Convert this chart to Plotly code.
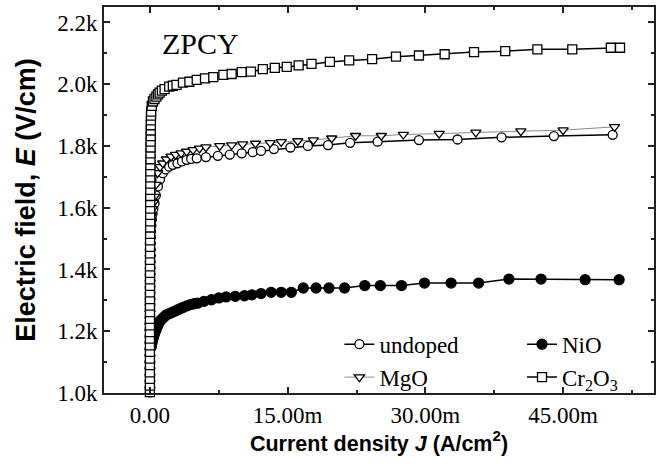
import plotly.graph_objects as go

# ---------------- data (J in mA/cm^2, E in V/cm) ----------------
j_undoped = [0.000, 0.001, 0.001, 0.002, 0.002, 0.003, 0.003, 0.004, 0.005, 0.006,
             0.007, 0.008, 0.010, 0.012, 0.014, 0.016, 0.019, 0.022, 0.026, 0.030,
             0.035, 0.041, 0.048, 0.056, 0.066, 0.078,
             0.10, 0.14, 0.20, 0.28, 0.38, 0.50, 0.65, 0.87, 1.1, 1.4,
             1.7, 2.1, 2.5, 3.0, 3.5, 4.0, 4.5, 5.1, 6.1, 7.4,
             8.7, 10.0, 11.2, 12.1, 13.5, 15.3, 17.2, 19.4, 21.8, 24.8,
             29.3, 33.5, 38.3, 44.0, 50.4]
e_undoped = [1002, 1022, 1043, 1063, 1084, 1104, 1125, 1145, 1166, 1186,
             1207, 1227, 1247, 1268, 1288, 1308, 1328, 1348, 1368, 1388,
             1408, 1428, 1447, 1467, 1486, 1505,
             1524, 1543, 1562, 1580, 1597, 1614, 1640, 1669, 1692, 1712,
             1724, 1733, 1739, 1744, 1750, 1755, 1758, 1760, 1764, 1768,
             1772, 1776, 1780, 1784, 1790, 1795, 1800, 1803, 1810, 1814,
             1819, 1821, 1828, 1832, 1836]

j_nio = [0.15, 0.22, 0.30, 0.40, 0.50, 0.60, 0.70, 0.85, 1.0, 1.2,
         1.4, 1.6, 1.8, 2.1, 2.4, 2.7, 3.0, 3.3, 3.6, 4.0,
         4.4, 4.8, 5.2, 5.9, 6.7, 7.5, 8.3, 9.3, 10.3, 11.1,
         12.1, 13.2, 14.3, 15.4, 16.7, 18.1, 19.5, 21.2, 23.4, 25.1,
         27.4, 29.9, 32.8, 35.8, 39.1, 42.6, 47.4, 51.1]
e_nio = [1150, 1162, 1172, 1183, 1192, 1200, 1207, 1218, 1228, 1236,
         1242, 1248, 1253, 1257, 1261, 1265, 1269, 1273, 1277, 1282,
         1286, 1289, 1291, 1297, 1302, 1308, 1311, 1313, 1315, 1318,
         1322, 1326, 1326, 1326, 1340, 1340, 1340, 1340, 1348, 1348,
         1348, 1356, 1356, 1356, 1369, 1369, 1367, 1367]

j_mgo = [0.000, 0.001, 0.001, 0.002, 0.002, 0.003, 0.003, 0.004, 0.005, 0.006,
         0.007, 0.008, 0.010, 0.012, 0.014, 0.016, 0.019, 0.022, 0.026, 0.030,
         0.035, 0.041, 0.048, 0.056, 0.066, 0.078,
         0.10, 0.14, 0.20, 0.28, 0.38, 0.50, 0.65, 0.85, 1.1, 1.4,
         1.8, 2.3, 2.8, 3.4, 4.0, 4.7, 5.4, 6.1, 7.6, 8.9,
         10.1, 11.5, 13.1, 14.3, 16.1, 17.8, 19.8, 22.4, 25.2, 27.6,
         31.5, 35.5, 40.4, 45.0, 50.6]
e_mgo = [1012, 1033, 1053, 1074, 1094, 1115, 1135, 1156, 1176, 1197,
         1217, 1237, 1258, 1278, 1298, 1318, 1338, 1358, 1378, 1398,
         1418, 1438, 1457, 1477, 1496, 1515,
         1535, 1556, 1576, 1596, 1616, 1636, 1675, 1713, 1732, 1744,
         1757, 1766, 1772, 1777, 1782, 1787, 1792, 1796, 1800, 1803,
         1806, 1808, 1810, 1813, 1816, 1819, 1825, 1833, 1833, 1837,
         1840, 1844, 1848, 1851, 1862]

j_cr2o3 = [0.000, 0.001, 0.001, 0.001, 0.002, 0.002, 0.002, 0.003, 0.003, 0.004,
           0.004, 0.005, 0.005, 0.006, 0.007, 0.008, 0.009, 0.010, 0.011, 0.012,
           0.013, 0.015, 0.016, 0.018, 0.020, 0.022, 0.024, 0.026, 0.029, 0.031,
           0.034, 0.037, 0.041, 0.045, 0.049, 0.054, 0.059, 0.065, 0.071, 0.078,
           0.085, 0.093, 0.10, 0.11, 0.12, 0.13,
           0.20, 0.33, 0.50, 0.70, 0.88, 1.06, 1.3, 1.6, 2.1, 2.5,
           2.9, 3.6, 4.3, 5.1, 6.0, 6.9, 8.0, 8.9, 10.0, 11.0,
           12.3, 13.6, 14.9, 16.2, 17.6, 19.6, 21.7, 24.2, 26.8, 29.3,
           32.1, 35.3, 38.7, 42.2, 46.0, 50.2, 51.2]
e_cr2o3 = [1003, 1024, 1046, 1067, 1090, 1111, 1133, 1154, 1176, 1197,
           1219, 1240, 1262, 1283, 1304, 1326, 1347, 1368, 1389, 1410,
           1431, 1452, 1473, 1494, 1515, 1536, 1556, 1577, 1597, 1618,
           1638, 1658, 1678, 1698, 1718, 1738, 1757, 1776, 1795, 1814,
           1832, 1850, 1867, 1883, 1898, 1911,
           1930, 1944, 1952, 1960, 1967, 1973, 1979, 1984, 1992, 1995,
           1998, 2005, 2008, 2014, 2019, 2023, 2030, 2033, 2039, 2041,
           2049, 2053, 2056, 2061, 2066, 2072, 2077, 2081, 2089, 2093,
           2097, 2104, 2107, 2113, 2113, 2118, 2118]

x_tick_vals = [0, 15, 30, 45]
x_tick_text = ["0.00", "15.00m", "30.00m", "45.00m"]
y_tick_vals = [1000, 1200, 1400, 1600, 1800, 2000, 2200]
y_tick_text = ["1.0k", "1.2k", "1.4k", "1.6k", "1.8k", "2.0k", "2.2k"]

series_names = ["undoped", "NiO", "MgO", "Cr<sub>2</sub>O<sub>3</sub>"]

SERIF = "Liberation Serif"
SANS = "Liberation Sans"

fig = go.Figure()

def add(name, x, y, symbol, size, fill, lcolor, lwidth, legend):
    fig.add_trace(go.Scatter(
        x=x, y=y, name=name, mode="lines+markers",
        line=dict(color=lcolor, width=lwidth),
        marker=dict(symbol=symbol, size=size, color=fill,
                    line=dict(color="black", width=1.3)),
        cliponaxis=False, legend=legend,
    ))

add(series_names[0], j_undoped, e_undoped, "circle", 9, "white", "black", 1.5, "legend")
add(series_names[1], j_nio, e_nio, "circle", 10, "black", "black", 1.5, "legend2")
add(series_names[2], j_mgo, e_mgo, "triangle-down", 9, "white", "#8a8a8a", 1.0, "legend")
add(series_names[3], j_cr2o3, e_cr2o3, "square", 9, "white", "black", 1.5, "legend2")

axis_common = dict(
    showline=True, linewidth=1.8, linecolor="#222", mirror="ticks",
    ticks="inside", ticklen=6, tickwidth=1.5, tickcolor="#222",
    showgrid=False, zeroline=False,
    tickfont=dict(family=SERIF, size=23, color="black"),
)

fig.update_xaxes(
    range=[-5.0, 54.9], tickmode="array", tickvals=x_tick_vals, ticktext=x_tick_text,
    minor=dict(dtick=7.5, tick0=0, ticks="inside", ticklen=3.5, tickwidth=1.5, tickcolor="#222"),
    title=dict(text="<b>Current density <i>J</i> (A/cm<sup>2</sup>)</b>",
               font=dict(family=SANS, size=21.5, color="black"), standoff=5),
    automargin=False,
    **axis_common,
)
fig.update_yaxes(
    range=[1000, 2250], tickmode="array", tickvals=y_tick_vals, ticktext=y_tick_text,
    minor=dict(dtick=100, tick0=1000, ticks="inside", ticklen=3.5, tickwidth=1.5, tickcolor="#222"),
    title=dict(text="<b>Electric field, <i>E</i> (V/cm)</b>",
               font=dict(family=SANS, size=27, color="black"), standoff=14),
    automargin=False,
    **axis_common,
)

fig.add_annotation(text="ZPCY", xref="paper", yref="paper", x=0.175, y=0.905,
                   xanchor="center", yanchor="middle",
                   showarrow=False, font=dict(family=SERIF, size=30, color="black"))

legend_common = dict(orientation="v", yanchor="top", y=0.182, xanchor="left",
                     bgcolor="rgba(0,0,0,0)", tracegroupgap=0,
                     font=dict(family=SERIF, size=23, color="black"))

fig.update_layout(
    width=660, height=466,
    margin=dict(l=104, r=6, t=7, b=73),
    plot_bgcolor="white", paper_bgcolor="white",
    showlegend=True,
    legend=dict(x=0.428, **legend_common),
    legend2=dict(x=0.760, **legend_common),
)

fig.write_html("out.html", config={"displayModeBar": False},
               post_script="document.body.style.margin='0px';")
